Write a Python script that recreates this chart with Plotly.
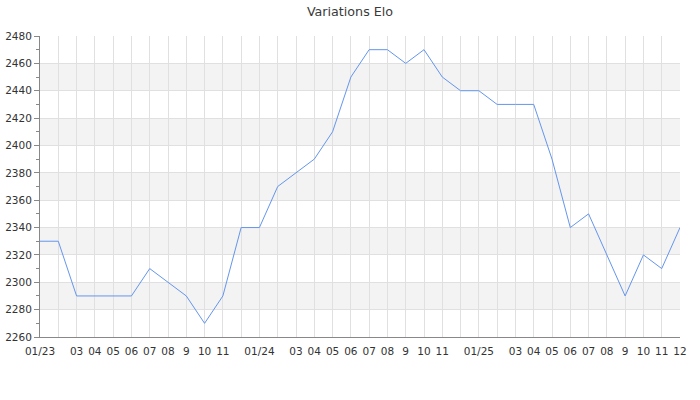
import plotly.graph_objects as go

months = ["01/23", "", "03", "04", "05", "06", "07", "08", "9", "10", "11", "",
          "01/24", "", "03", "04", "05", "06", "07", "08", "9", "10", "11", "",
          "01/25", "", "03", "04", "05", "06", "07", "08", "9", "10", "11", "12"]
elo = [2330, 2330, 2290, 2290, 2290, 2290, 2310, 2300, 2290, 2270, 2290, 2340,
       2340, 2370, 2380, 2390, 2410, 2450, 2470, 2470, 2460, 2470, 2450, 2440,
       2440, 2430, 2430, 2430, 2390, 2340, 2350, 2320, 2290, 2320, 2310, 2340]
band_starts = [2280, 2320, 2360, 2400, 2440]

x = list(range(len(elo)))

fig = go.Figure()
fig.add_trace(go.Scatter(x=x, y=elo, mode="lines",
                         line=dict(color="#6495ed", width=1), hoverinfo="y"))

shapes = [dict(type="rect", xref="paper", yref="y", x0=0, x1=1, y0=b, y1=b + 20,
               fillcolor="#f3f3f3", line=dict(width=0), layer="below")
          for b in band_starts]

fig.update_layout(
    width=700, height=400,
    margin=dict(l=40, r=20, t=36, b=63),
    paper_bgcolor="white", plot_bgcolor="white",
    font=dict(family="DejaVu Sans", size=10.5, color="#333"),
    title=dict(text="Variations Elo", x=0.5, xanchor="center", y=0.97, yanchor="middle",
               font=dict(size=12.7, color="#3a3a3a")),
    showlegend=False,
    shapes=shapes,
    xaxis=dict(range=[0, 35], tickmode="array", tickvals=x, ticktext=months,
               showgrid=True, gridcolor="#e0e0e0", gridwidth=1,
               showline=True, linecolor="#888", linewidth=1, automargin=False,
               ticks="", ticklabelstandoff=4, zeroline=False, tickangle=0,
               tickfont=dict(size=10.5)),
    yaxis=dict(range=[2260, 2480], dtick=20, tick0=2260, automargin=False,
               showgrid=True, gridcolor="#e0e0e0", gridwidth=1,
               showline=True, linecolor="#888", linewidth=1,
               ticks="outside", ticklen=5, tickcolor="#888",
               minor=dict(dtick=10, ticks="outside", ticklen=3, tickcolor="#888", showgrid=False),
               zeroline=False, tickfont=dict(size=10.5)),
)

fig.write_html("out.html", config={"displayModeBar": False},
               post_script="document.body.style.margin='0';")
